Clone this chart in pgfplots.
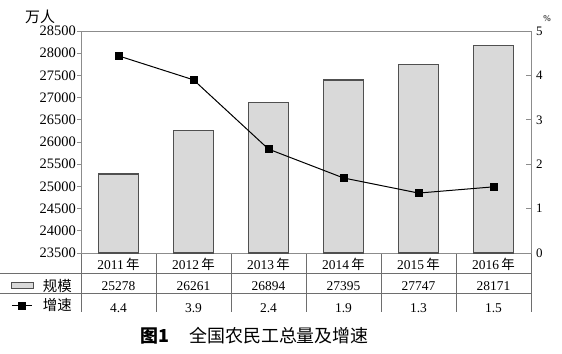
\documentclass[border=0pt]{standalone}
\usepackage{pgfplots}
\pgfplotsset{compat=1.18}
\usepackage{fontspec}
\setmainfont{Liberation Serif}
\newfontfamily\cjk{Noto Sans CJK SC}
\definecolor{barfill}{HTML}{D9D9D9}
\definecolor{bardraw}{HTML}{505050}
\definecolor{axgray}{HTML}{8C8C8C}
\definecolor{gridgray}{HTML}{6E6E6E}
\pgfplotsset{
  linelegend/.style={legend image code/.code={\draw[##1, mark repeat=2, mark phase=2] plot coordinates {(0bp,0bp) (10bp,0bp) (20bp,0bp)};}},
  barlegend/.style={legend image code/.code={\draw[fill=barfill, draw=bardraw, line width=1bp] (0bp,-3bp) rectangle (22bp,3bp);}},
}
\begin{document}
\begin{tikzpicture}[x=1bp,y=1bp]
\useasboundingbox (0,0) rectangle (562,353);
% table grid
\draw[gridgray, line width=0.9bp] (0,80) -- (531,80);
\draw[gridgray, line width=0.9bp] (0,60) -- (531,60);
\foreach \xx in {81,156,231,306,381,456,531} {
  \draw[gridgray, line width=0.9bp] (\xx,100) -- (\xx,41);
}
\begin{axis}[
  at={(81bp,100bp)}, anchor=south west, scale only axis,
  width=450bp, height=222bp,
  xmin=-0.5, xmax=5.5, ymin=23500, ymax=28500,
  xtick={0,...,5},
  xticklabels={
    {2011\,{\cjk 年}\\25278\\4.4},
    {2012\,{\cjk 年}\\26261\\3.9},
    {2013\,{\cjk 年}\\26894\\2.4},
    {2014\,{\cjk 年}\\27395\\1.9},
    {2015\,{\cjk 年}\\27747\\1.3},
    {2016\,{\cjk 年}\\28171\\1.5}},
  xtick style={draw=none},
  xticklabel style={align=center, anchor=north, font=\fontsize{13.5}{21.5}\selectfont, inner sep=0bp, yshift=-1bp},
  ytick={23500,24000,...,28500},
  scaled y ticks=false,
  ytick pos=left, tick align=outside,
  major tick length=4bp,
  axis line style={axgray, line width=0.9bp},
  y tick style={axgray, line width=0.9bp},
  yticklabel style={font=\fontsize{14.5}{14.5}\selectfont, inner sep=1bp},
  /pgf/number format/1000 sep={},
  /pgf/number format/assume math mode=true,
  clip=false,
  ybar, bar width=40bp,
]
\addplot[fill=barfill, draw=bardraw, line width=1.2bp, bar shift=0bp] coordinates {(0,25278) (1,26261) (2,26894) (3,27395) (4,27747) (5,28171)};
\end{axis}
\begin{axis}[
  at={(81bp,100bp)}, anchor=south west, scale only axis,
  width=450bp, height=222bp,
  xmin=-0.5, xmax=5.5, ymin=0, ymax=5,
  axis x line=none, axis y line*=right,
  ytick={0,...,5}, tick align=inside, major tick length=5bp,
  axis line style={axgray, line width=0.9bp},
  y tick style={axgray, line width=0.9bp},
  yticklabel style={font=\fontsize{13}{13}\selectfont, inner sep=1bp, xshift=4bp},
  /pgf/number format/assume math mode=true,
  clip=false,
  legend style={draw=none, fill=none, at={(-0.155,-0.11)}, anchor=north west,
    inner sep=0bp, row sep=3bp, font=\cjk\fontsize{14.5}{14.5}\selectfont,
    nodes={inner sep=1.5bp},
    /tikz/every odd column/.append style={column sep=7bp}},
  legend cell align=left,
]
\addlegendimage{barlegend}
\addlegendentry{规模}
\addplot[black, line width=1bp, mark=square*, mark size=3.5bp, linelegend]
  coordinates {(0,4.44) (1,3.9) (2,2.34) (3,1.69) (4,1.35) (5,1.49)};
\addlegendentry{增速}
\end{axis}
\node[font=\cjk\fontsize{15}{15}\selectfont] at (40,336) {万人};
\node[font=\fontsize{9}{9}\selectfont] at (547,334) {\%};
\node[anchor=base west, font=\cjk\fontsize{18}{18}\selectfont] at (137,11) {\textbf{图1}\hspace{20bp}全国农民工总量及增速};
\end{tikzpicture}
\end{document}
